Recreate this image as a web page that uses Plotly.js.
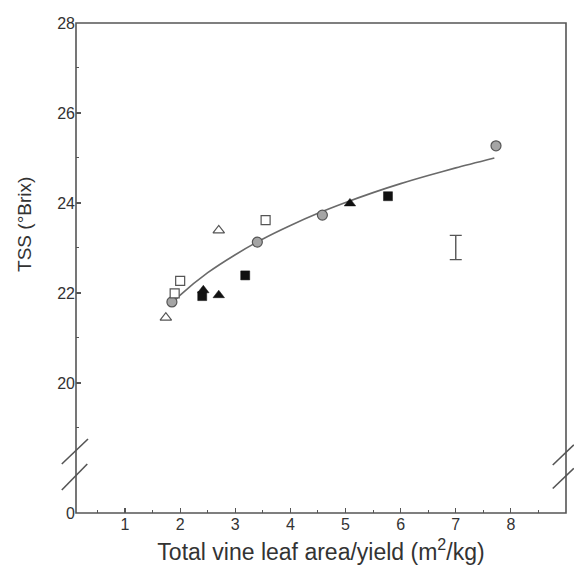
<!DOCTYPE html>
<html>
<head>
<meta charset="utf-8">
<script src="https://cdn.plot.ly/plotly-3.0.1.min.js"></script>
<style>html,body{margin:0;padding:0;background:#fff;}#chart{width:574px;height:576px;}</style>
</head>
<body>
<div id="chart"></div>
<script>
// Fitted curve
const curveX = [1.82, 2.0, 2.5, 3.0, 3.5, 4.0, 4.5, 5.0, 5.5, 6.0, 6.5, 7.0, 7.7];
const curveY = [21.72, 21.95, 22.45, 22.85, 23.20, 23.50, 23.77, 24.01, 24.23, 24.43, 24.61, 24.78, 25.00];

// Open triangles
const openTriX = [1.74, 2.70];
const openTriY = [21.45, 23.39];
// Open squares
const openSqX = [1.90, 2.00, 3.55];
const openSqY = [21.99, 22.27, 23.62];
// Grey circles
const greyCircX = [1.85, 3.40, 4.58, 7.73];
const greyCircY = [21.80, 23.13, 23.73, 25.27];
// Filled triangles
const fillTriX = [2.42, 2.70, 5.08];
const fillTriY = [22.06, 21.95, 23.99];
// Filled squares
const fillSqX = [2.40, 3.18, 5.77];
const fillSqY = [21.93, 22.39, 24.15];
// LSD error bar
const lsdX = [7.0];
const lsdY = [23.01];
const lsdHalf = [0.27];

// Tick labels
const xTicks = [1, 2, 3, 4, 5, 6, 7, 8];
const yTicksUpper = [20, 22, 24, 26, 28];
const yTicksLower = [0];

const axisCol = '#555';
const txtCol = '#333';
const font = 'Arial, "Liberation Sans", sans-serif';

const traces = [
  // empty trace so the lower (broken) axis segment exists
  {x: [], y: [], mode: 'markers', xaxis: 'x', yaxis: 'y', hoverinfo: 'skip'},
  {x: curveX, y: curveY, mode: 'lines', line: {color: '#6a6a6a', width: 1.6, shape: 'spline', smoothing: 0.8}, xaxis: 'x', yaxis: 'y2', hoverinfo: 'skip'},
  {x: greyCircX, y: greyCircY, mode: 'markers', marker: {symbol: 'circle', size: 10, color: '#a5a5a5', line: {color: '#555', width: 1.2}}, xaxis: 'x', yaxis: 'y2'},
  {x: openTriX, y: openTriY, mode: 'markers', marker: {symbol: 'triangle-up', size: 10, color: '#fff', line: {color: '#555', width: 1.2}}, xaxis: 'x', yaxis: 'y2'},
  {x: openSqX, y: openSqY, mode: 'markers', marker: {symbol: 'square', size: 9, color: '#fff', line: {color: '#555', width: 1.2}}, xaxis: 'x', yaxis: 'y2'},
  {x: fillSqX, y: fillSqY, mode: 'markers', marker: {symbol: 'square', size: 9, color: '#111', line: {color: '#111', width: 0.5}}, xaxis: 'x', yaxis: 'y2'},
  {x: fillTriX, y: fillTriY, mode: 'markers', marker: {symbol: 'triangle-up', size: 10, color: '#111', line: {color: '#111', width: 0.5}}, xaxis: 'x', yaxis: 'y2'},
  {x: lsdX, y: lsdY, mode: 'markers', marker: {size: 1, opacity: 0}, error_y: {type: 'data', array: lsdHalf, visible: true, color: '#555', thickness: 1.4, width: 6}, xaxis: 'x', yaxis: 'y2'}
];

const brk = 0.102;
const layout = {
  width: 574, height: 576,
  margin: {l: 76, r: 8, t: 23, b: 63},
  paper_bgcolor: '#fff', plot_bgcolor: '#fff',
  showlegend: false,
  font: {family: font, color: txtCol},
  xaxis: {
    domain: [0, 1], range: [0.11, 9], anchor: 'y',
    tickmode: 'array', tickvals: xTicks,
    ticks: 'inside', ticklen: 5, tickwidth: 1.2, tickcolor: axisCol,
    minor: {tick0: 0, dtick: 0.5, ticks: 'inside', ticklen: 3, tickwidth: 1, tickcolor: axisCol},
    showgrid: false, zeroline: false, showline: false,
    tickfont: {family: font, size: 16, color: txtCol},
    title: {text: 'Total vine leaf area/yield (m<sup>2</sup>/kg)', font: {family: font, size: 23, color: txtCol}, standoff: 11}
  },
  yaxis: {
    domain: [0, brk], range: [0, 1], anchor: 'x',
    tickmode: 'array', tickvals: yTicksLower, ticks: '',
    showgrid: false, zeroline: false, showline: false,
    tickfont: {family: font, size: 16, color: txtCol}
  },
  yaxis2: {
    domain: [brk, 1], range: [18.22, 28], anchor: 'x',
    tickmode: 'array', tickvals: yTicksUpper,
    ticks: 'inside', ticklen: 5, tickwidth: 1.2, tickcolor: axisCol,
    minor: {tick0: 0, dtick: 1, ticks: 'inside', ticklen: 3, tickwidth: 1, tickcolor: axisCol},
    showgrid: false, zeroline: false, showline: false,
    tickfont: {family: font, size: 16, color: txtCol}
  },
  annotations: [
    {text: 'TSS (°Brix)', xref: 'paper', yref: 'paper', x: -0.104, y: 0.588, textangle: -90,
     showarrow: false, xanchor: 'center', yanchor: 'middle', font: {family: font, size: 19, color: txtCol}}
  ],
  shapes: [
    {type: 'rect', xref: 'paper', yref: 'paper', x0: 0, x1: 1, y0: 0, y1: 1, line: {color: axisCol, width: 1.6}, layer: 'above'},
    {type: 'line', xref: 'paper', yref: 'paper', x0: -0.029, y0: 0.100, x1: 0.0245, y1: 0.151, line: {color: axisCol, width: 1.6}},
    {type: 'line', xref: 'paper', yref: 'paper', x0: -0.029, y0: 0.047, x1: 0.0230, y1: 0.100, line: {color: axisCol, width: 1.6}},
    {type: 'line', xref: 'paper', yref: 'paper', x0: 0.973, y0: 0.098, x1: 1.016, y1: 0.139, line: {color: axisCol, width: 1.6}},
    {type: 'line', xref: 'paper', yref: 'paper', x0: 0.973, y0: 0.050, x1: 1.016, y1: 0.091, line: {color: axisCol, width: 1.6}}
  ]
};

Plotly.newPlot('chart', traces, layout, {displayModeBar: false, staticPlot: true});
</script>
</body>
</html>
